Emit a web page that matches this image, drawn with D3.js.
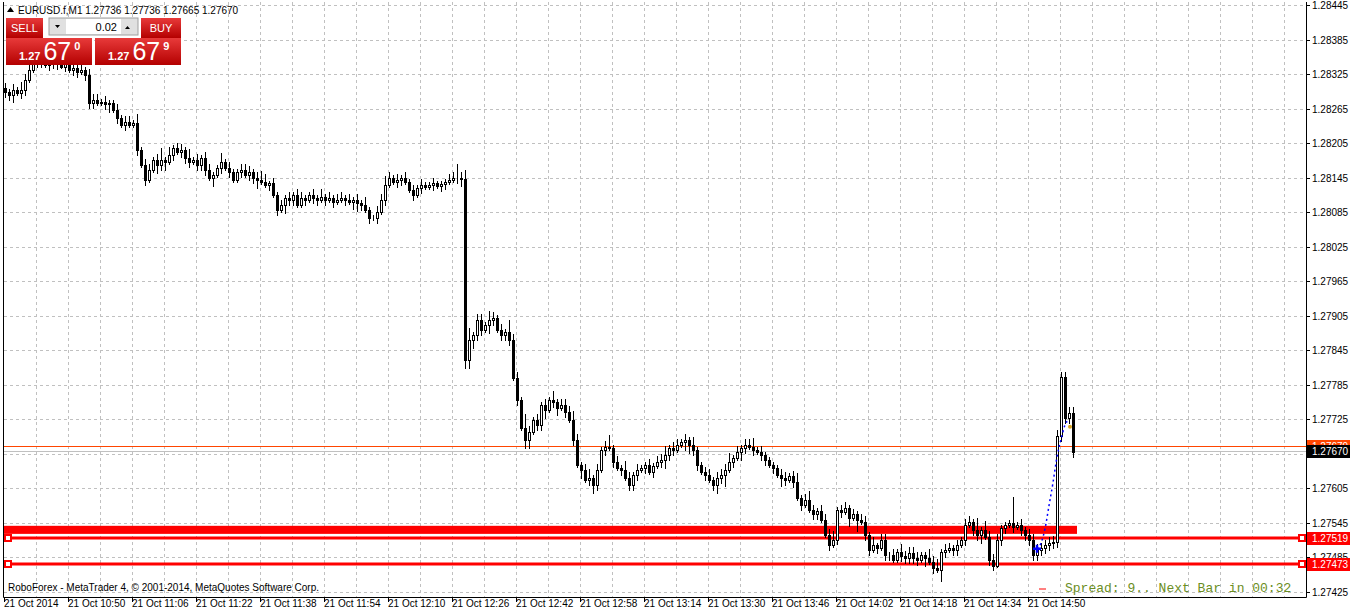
<!DOCTYPE html>
<html><head><meta charset="utf-8">
<script src="https://cdnjs.cloudflare.com/ajax/libs/d3/7.8.5/d3.min.js"></script>
<style>body{margin:0;background:#fff}svg{display:block}text{font-family:"Liberation Sans",sans-serif}</style>
</head><body><svg id="c" width="1350" height="613"></svg>
<script>
// closes: price = 1.27 + v/1e5, one bar per minute starting 10:34
const closes = [1294,1289,1297,1292,1297,1315,1332,1346,1346,1352,1340,1348,1355,1342,1338,1345,
1332,1336,1329,1332,1323,1275,1280,1275,1277,1273,1275,1263,1249,1236,1242,1236,1240,1193,1167,
1141,1158,1176,1167,1176,1172,1184,1196,1189,1193,1179,1172,1176,1167,1179,1158,1144,1149,1162,
1172,1162,1155,1141,1155,1158,1149,1155,1144,1141,1137,1132,1135,1115,1089,1097,1110,1106,1115,
1097,1110,1106,1115,1110,1106,1111,1106,1110,1103,1106,1110,1106,1103,1106,1101,1097,1089,1075,
1075,1085,1106,1132,1144,1137,1141,1144,1137,1123,1115,1127,1132,1129,1132,1135,1130,1134,1137,
1141,1144,1144,1143,828,863,871,898,880,889,898,901,880,871,877,863,797,759,710,689,703,724,715,
750,741,759,755,745,750,738,724,689,646,637,619,623,611,637,672,677,675,651,640,637,623,611,628,
637,640,646,633,644,651,654,663,675,672,680,685,689,680,672,646,633,628,619,611,623,628,637,651,
658,668,675,680,677,672,668,663,654,646,640,628,623,619,626,616,588,576,585,567,560,566,550,524,
507,516,567,564,571,553,560,550,547,524,498,506,501,515,489,490,481,494,487,484,493,484,480,489,
484,477,467,463,494,498,501,498,506,515,541,547,533,524,533,521,481,471,515,536,541,545,538,541,
533,524,515,489,498,501,506,510,512,696,798,727,736,668];
const firstOpen = 1300;
// wick lengths in units of 5 points, one digit per bar
const wickHi = "21213222132221312232122212112122131221241312213121221131211222123312121212211213121221212131122321212121211211120523412213212142215212121312223212312124121321211212231221213112212223121223121111221231232122231221212213122121322221132312212122141300211191210";
const wickLo = "22312211221232121221222112312121121211323121222122213121211212231121213221121221212112133212121211221121211212211233332213212221213312231231212131232121212122212121232211332212123241213212122121321212112211212213141221212211222221312142122121223122120101";
const priceTicks = [1.28445,1.28385,1.28325,1.28265,1.28205,1.28145,1.28085,1.28025,1.27965,1.27905,
1.27845,1.27785,1.27725,1.27605,1.27545,1.27485,1.27425];
const timeLabels = ["21 Oct 2014","21 Oct 10:50","21 Oct 11:06","21 Oct 11:22","21 Oct 11:38","21 Oct 11:54",
"21 Oct 12:10","21 Oct 12:26","21 Oct 12:42","21 Oct 12:58","21 Oct 13:14","21 Oct 13:30","21 Oct 13:46",
"21 Oct 14:02","21 Oct 14:18","21 Oct 14:34","21 Oct 14:50"];
const bid = 1.27670, ask = 1.27679;
const levels = [1.27519, 1.27473];
const zoneBand = [1.27526, 1.27540];
const projection = [[258,1.27500],[259,1.27510],[260,1.27535],[261,1.27575],[262,1.27615],[263,1.27660],[264,1.27690],[265,1.27715],[266,1.27725]];

const svg = d3.select("#c");
const L = 4, R = 1306, T = 2, B = 597;
const x = d3.scaleLinear().domain([0, 1]).range([5, 9]);
const y = d3.scaleLinear().domain([1.27425, 1.28445]).range([592, 5]);

// grid
const g = svg.append("g").attr("stroke", "#c0c0c0").attr("stroke-dasharray", "3,3");
d3.range(1, 41).forEach(k => { const gx = L + 32 * k; if (gx < R) g.append("line").attr("x1", gx + .5).attr("x2", gx + .5).attr("y1", T).attr("y2", B); });
priceTicks.concat([1.27665]).forEach(p => g.append("line").attr("x1", L).attr("x2", R).attr("y1", Math.round(y(p)) + .5).attr("y2", Math.round(y(p)) + .5));

// zone and levels
svg.append("rect").attr("x", L).attr("width", x(268) - L).attr("y", y(zoneBand[1])).attr("height", y(zoneBand[0]) - y(zoneBand[1])).attr("fill", "#ff0000");
levels.forEach(p => {
  const yy = Math.round(y(p));
  svg.append("line").attr("x1", L).attr("x2", R).attr("y1", yy).attr("y2", yy).attr("stroke", "#ff0000").attr("stroke-width", 3);
  [L + 1, R - 7].forEach(sx => svg.append("rect").attr("x", sx).attr("y", yy - 3).attr("width", 6).attr("height", 6).attr("fill", "#fff").attr("stroke", "#ff0000").attr("stroke-width", 2));
});
svg.append("line").attr("x1", L).attr("x2", R).attr("y1", Math.round(y(ask)) + .5).attr("y2", Math.round(y(ask)) + .5).attr("stroke", "#ff4500");
svg.append("line").attr("x1", L).attr("x2", R).attr("y1", Math.round(y(bid)) + .5).attr("y2", Math.round(y(bid)) + .5).attr("stroke", "#c0c0c0");

// candles
const bars = closes.map((c, i) => {
  const o = i ? closes[i - 1] : firstOpen;
  const hi = Math.max(o, c) + 5 * (+wickHi[i] || 2), lo = Math.min(o, c) - 5 * (+wickLo[i] || 2);
  return { i, o: 1.27 + o / 1e5, c: 1.27 + c / 1e5, h: 1.27 + hi / 1e5, l: 1.27 + lo / 1e5 };
});
const cg = svg.append("g").attr("shape-rendering", "crispEdges");
bars.forEach(d => {
  const cx = Math.round(x(d.i));
  cg.append("line").attr("x1", cx + .5).attr("x2", cx + .5).attr("y1", y(d.h)).attr("y2", y(d.l)).attr("stroke", "#000");
  const top = Math.round(y(Math.max(d.o, d.c))), bot = Math.round(y(Math.min(d.o, d.c)));
  const bull = d.c >= d.o;
  cg.append("rect").attr("x", cx - .5).attr("y", top + .5).attr("width", 2).attr("height", Math.max(0, bot - top))
    .attr("fill", bull ? "#fff" : "#000").attr("stroke", "#000").attr("stroke-width", 1);
});

// projection
svg.append("path").datum(projection).attr("d", d3.line().x(d => x(d[0])).y(d => y(d[1])).curve(d3.curveMonotoneX))
  .attr("fill", "none").attr("stroke", "#0000ff").attr("stroke-width", 1.5).attr("stroke-dasharray", "2,3");
const px = x(258), py = y(1.27500);
svg.append("path").attr("d", `M${px - 4},${py}H${px + 4}M${px},${py - 4}V${py + 4}`).attr("stroke", "#0000ff").attr("stroke-width", 2.5);
svg.append("circle").attr("cx", x(266) + 1).attr("cy", y(1.27712)).attr("r", 2).attr("fill", "#daa520");

// frame
svg.append("path").attr("d", `M${L - .5},${T}V${B + .5}H${R + .5}V${T}`).attr("fill", "none").attr("stroke", "#000");

// price axis
const ax = svg.append("g").attr("font-size", 10);
priceTicks.forEach(p => {
  const yy = Math.round(y(p)) + .5;
  ax.append("line").attr("x1", R).attr("x2", R + 4).attr("y1", yy).attr("y2", yy).attr("stroke", "#000");
  ax.append("text").attr("x", R + 6).attr("y", yy + 3.5).text(p.toFixed(5));
});
function tag(p, bg, fg) {
  const yy = Math.round(y(p));
  ax.append("rect").attr("x", R + 1).attr("y", yy - 6).attr("width", 43).attr("height", 13).attr("fill", bg);
  ax.append("text").attr("x", R + 6).attr("y", yy + 4).attr("fill", fg).text(p.toFixed(5));
}
tag(ask, "#ff4500", "#fff");
tag(bid, "#000", "#fff");
levels.forEach(p => tag(p, "#ff0000", "#fff"));

// time axis
timeLabels.forEach((t, k) => {
  const tx = L + 64 * k;
  ax.append("line").attr("x1", tx + .5).attr("x2", tx + .5).attr("y1", B).attr("y2", B + 5).attr("stroke", "#000");
  ax.append("text").attr("x", tx).attr("y", 607).text(t);
});

// texts
svg.append("text").attr("x", 8).attr("y", 591).attr("font-size", 10).text("RoboForex - MetaTrader 4, © 2001-2014, MetaQuotes Software Corp.");
svg.append("text").attr("x", 1065).attr("y", 592).style("font-family", "'Liberation Mono',monospace").attr("font-size", 13).attr("fill", "#6b8e23").text("Spread: 9.. Next Bar in 00:32");
svg.append("line").attr("x1", 1039).attr("x2", 1046).attr("y1", 589).attr("y2", 589).attr("stroke", "#ff0000");
svg.append("path").attr("d", "M7,12L10.5,7L14,12Z").attr("fill", "#000");
svg.append("text").attr("x", 18).attr("y", 14).attr("font-size", 10).text("EURUSD.f,M1  1.27736 1.27736 1.27665 1.27670");

// trade panel
const defs = svg.append("defs");
const gr = defs.append("linearGradient").attr("id", "rg").attr("x1", 0).attr("x2", 0).attr("y1", 0).attr("y2", 1);
gr.append("stop").attr("offset", 0).attr("stop-color", "#e83a3a");
gr.append("stop").attr("offset", 1).attr("stop-color", "#b40000");
const pn = svg.append("g");
[[6, 43, "SELL"], [141, 181, "BUY"]].forEach(([a, b, t]) => {
  pn.append("rect").attr("x", a).attr("y", 18).attr("width", b - a).attr("height", 20).attr("fill", "url(#rg)");
  pn.append("text").attr("x", (a + b) / 2).attr("y", 32).attr("text-anchor", "middle").attr("fill", "#fff").attr("font-size", 11).text(t);
});
pn.append("rect").attr("x", 49).attr("y", 18).attr("width", 89).attr("height", 17).attr("fill", "#e0e0e0").attr("stroke", "#a0a0a0");
pn.append("rect").attr("x", 66).attr("y", 19).attr("width", 55).attr("height", 15).attr("fill", "#fff");
pn.append("text").attr("x", 117).attr("y", 31).attr("text-anchor", "end").attr("font-size", 11).text("0.02");
pn.append("path").attr("d", "M55,25h5l-2.5,3z M125,29h5l-2.5,-3z").attr("fill", "#000");
[[6, "0"], [95, "9"]].forEach(([a, s]) => {
  pn.append("rect").attr("x", a).attr("y", 38).attr("width", 86).attr("height", 27).attr("fill", "url(#rg)");
  const t = pn.append("text").attr("x", a + 13).attr("y", 60).attr("fill", "#fff");
  t.append("tspan").attr("font-size", 11).attr("font-weight", "bold").text("1.27 ");
  t.append("tspan").attr("font-size", 25).text("67");
  t.append("tspan").attr("font-size", 11).attr("dy", -10).attr("dx", 3).attr("font-weight", "bold").text(s);
});
</script></body></html>
